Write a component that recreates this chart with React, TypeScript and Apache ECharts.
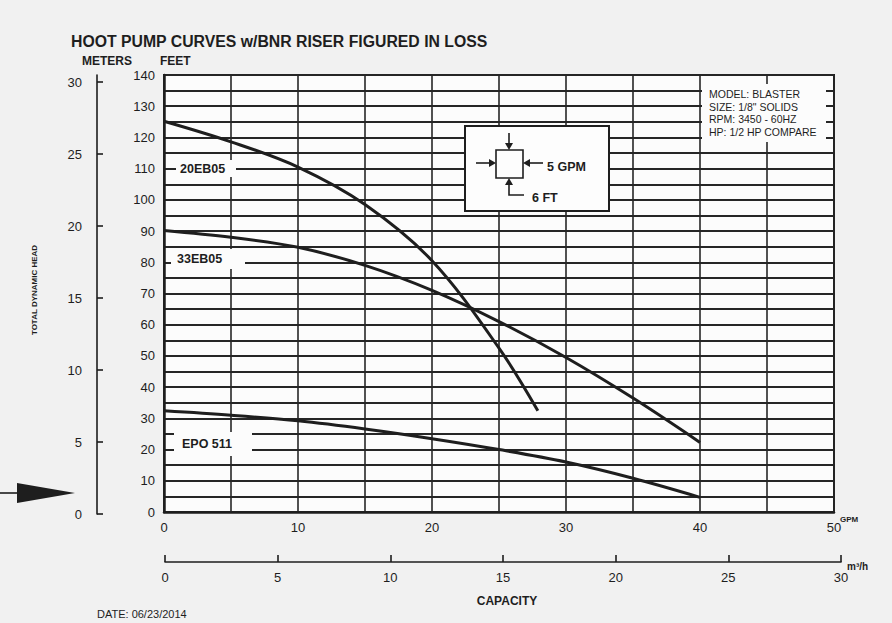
import React, { useEffect, useRef } from "react";
import * as echarts from "echarts";

// ---- data (GPM, feet) ----
const curve20EB05: [number, number][] = [
  [0, 125.2], [5, 118.6], [10, 110.5], [15, 98.5], [20, 80.5], [25, 52.5], [27.9, 32.4],
];
const curve33EB05: [number, number][] = [
  [0, 90.2], [5, 88.0], [10, 84.8], [15, 79.0], [20, 71.0], [25, 61.0], [30, 49.5], [35, 36.5], [40, 22.3],
];
const curveEPO511: [number, number][] = [
  [0, 32.4], [5, 31.0], [10, 29.2], [15, 26.6], [20, 23.5], [25, 20.0], [30, 16.0], [35, 10.8], [40, 4.7],
];
const meterTicks = [0, 5, 10, 15, 20, 25, 30];
const infoLines = ["MODEL: BLASTER", 'SIZE: 1/8" SOLIDS', "RPM: 3450 - 60HZ", "HP: 1/2 HP COMPARE"];
const curveNames = ["20EB05", "33EB05", "EPO 511"];

const FONT = "'Liberation Sans', Arial, sans-serif";
const INK = "#1e1e1e";

export default function App() {
  const ref = useRef<HTMLDivElement>(null);
  useEffect(() => {
    if (!ref.current) return;
    const chart = echarts.init(ref.current, undefined, { renderer: "svg" });

    const lineSeries = (name: string, data: [number, number][]) => ({
      name,
      type: "line",
      xAxisIndex: 0,
      yAxisIndex: 0,
      data,
      smooth: 0.35,
      showSymbol: false,
      z: 5,
      lineStyle: { color: INK, width: 3 },
    });

    const txt = (x: number, y: number, text: string, size: number, weight: string, extra: any = {}, rotation = 0) => ({
      type: "text",
      x,
      y,
      z: 110,
      rotation,
      style: {
        text,
        fontSize: size,
        fontWeight: weight,
        fontFamily: FONT,
        fill: INK,
        textVerticalAlign: "middle",
        ...extra,
      },
    });
    const whiteRect = (x: number, y: number, w: number, h: number, stroke?: number) => ({
      type: "rect",
      z: 100,
      shape: { x, y, width: w, height: h },
      style: stroke
        ? { fill: "#fdfdfd", stroke: INK, lineWidth: stroke }
        : { fill: "#fcfcfc" },
    });
    const ln = (x1: number, y1: number, x2: number, y2: number, w = 1.6) => ({
      type: "line",
      z: 110,
      shape: { x1, y1, x2, y2 },
      style: { stroke: INK, lineWidth: w },
    });
    const tri = (pts: number[][]) => ({
      type: "polygon",
      z: 110,
      shape: { points: pts },
      style: { fill: INK },
    });

    chart.setOption({
      animation: false,
      backgroundColor: "#f1f1f1",
      title: {
        text: "HOOT PUMP CURVES w/BNR RISER FIGURED IN LOSS",
        left: 66,
        top: 28,
        textStyle: { fontSize: 15.8, fontWeight: "bold", fontFamily: FONT, color: INK },
      },
      grid: [
        {
          left: 164, top: 75, width: 670, height: 437,
          show: true, backgroundColor: "#fcfcfc", borderColor: INK, borderWidth: 2,
        },
        { left: 165, top: 520, width: 676, height: 42 },
        { left: 97, top: 75, width: 1, height: 439 },
      ],
      xAxis: [
        {
          gridIndex: 0, type: "value", min: 0, max: 50, interval: 5,
          axisLine: { show: true, lineStyle: { color: INK, width: 2.5 } },
          axisTick: { show: false },
          axisLabel: {
            margin: 9, fontSize: 13, fontFamily: FONT, color: INK,
            formatter: (v: number) => (v % 10 === 0 ? String(v) : ""),
          },
          splitLine: { show: true, lineStyle: { color: "#262626", width: 1.6 } },
        },
        {
          gridIndex: 1, type: "value", min: 0, max: 30, interval: 5, position: "bottom",
          axisLine: { show: true, lineStyle: { color: INK, width: 1.6 } },
          axisTick: { show: true, inside: true, length: 7, lineStyle: { color: INK, width: 1.6 } },
          axisLabel: { margin: 9, fontSize: 13, fontFamily: FONT, color: INK },
          splitLine: { show: false },
        },
        { gridIndex: 2, type: "value", show: false },
      ],
      yAxis: [
        {
          gridIndex: 0, type: "value", min: 0, max: 140, interval: 5,
          axisLine: { show: true, lineStyle: { color: INK, width: 2.5 } },
          axisTick: { show: false },
          axisLabel: {
            margin: 9, fontSize: 13, fontFamily: FONT, color: INK,
            formatter: (v: number) => (v % 10 === 0 ? String(v) : ""),
          },
          splitLine: { show: true, lineStyle: { color: "#262626", width: 2 } },
        },
        { gridIndex: 1, type: "value", show: false },
        {
          gridIndex: 2, type: "value", min: 0, max: 30.5, position: "left",
          axisLine: { show: true, lineStyle: { color: INK, width: 1.6 } },
          axisTick: {
            show: true, inside: true, length: 6, customValues: meterTicks,
            lineStyle: { color: INK, width: 1.6 },
          },
          axisLabel: {
            margin: 15, fontSize: 13, fontFamily: FONT, color: INK, customValues: meterTicks,
            formatter: (v: number) => (v % 5 === 0 ? String(v) : ""),
          },
          splitLine: { show: false },
        },
      ],
      series: [
        lineSeries(curveNames[0], curve20EB05),
        lineSeries(curveNames[1], curve33EB05),
        lineSeries(curveNames[2], curveEPO511),
      ],
      graphic: [
        // axis headings
        txt(82, 61, "METERS", 12, "bold"),
        txt(160, 61, "FEET", 12, "bold"),
        txt(34, 290, "TOTAL DYNAMIC HEAD", 8, "bold", { textAlign: "center" }, Math.PI / 2),
        txt(840, 519, "GPM", 8, "bold"),
        txt(847, 566, "m³/h", 10, "bold"),
        txt(507, 601, "CAPACITY", 12, "bold", { textAlign: "center" }),
        txt(97, 614, "DATE: 06/23/2014", 11, "normal"),
        // curve labels
        whiteRect(176, 160, 60, 17),
        txt(180, 168.5, curveNames[0], 12.5, "bold"),
        whiteRect(171, 249, 74, 20),
        txt(177, 259, curveNames[1], 12.5, "bold"),
        whiteRect(174, 432, 78, 24),
        txt(182, 444, curveNames[2], 12.5, "bold"),
        // info box
        whiteRect(702, 84, 124, 58),
        ...infoLines.map((t, i) => txt(709, 94 + i * 12.5, t, 10.5, "normal")),
        // inset diagram
        whiteRect(465, 126, 144, 85, 2),
        {
          type: "rect", z: 110,
          shape: { x: 496, y: 150, width: 27, height: 28 },
          style: { fill: "none", stroke: INK, lineWidth: 1.6 },
        },
        ln(509, 133, 509, 144),
        tri([[505, 143], [513, 143], [509, 150]]),
        ln(476, 163, 490, 163),
        tri([[489, 159], [489, 167], [496, 163]]),
        ln(543, 163, 529, 163),
        tri([[530, 159], [530, 167], [523, 163]]),
        {
          type: "polyline", z: 110,
          shape: { points: [[509, 184], [509, 195], [524, 195]] },
          style: { stroke: INK, lineWidth: 1.6, fill: "none" },
        },
        tri([[505, 185], [513, 185], [509, 178]]),
        txt(547, 167, "5 GPM", 12.5, "bold"),
        txt(532, 198, "6 FT", 12.5, "bold"),
        // arrow on the left
        ln(0, 493, 18, 493, 1.6),
        tri([[17, 483], [17, 503], [75, 493]]),
      ],
    });
    return () => chart.dispose();
  }, []);
  return (
    <div
      ref={ref}
      style={{ position: "absolute", left: 0, top: 0, width: 892, height: 623 }}
    />
  );
}
